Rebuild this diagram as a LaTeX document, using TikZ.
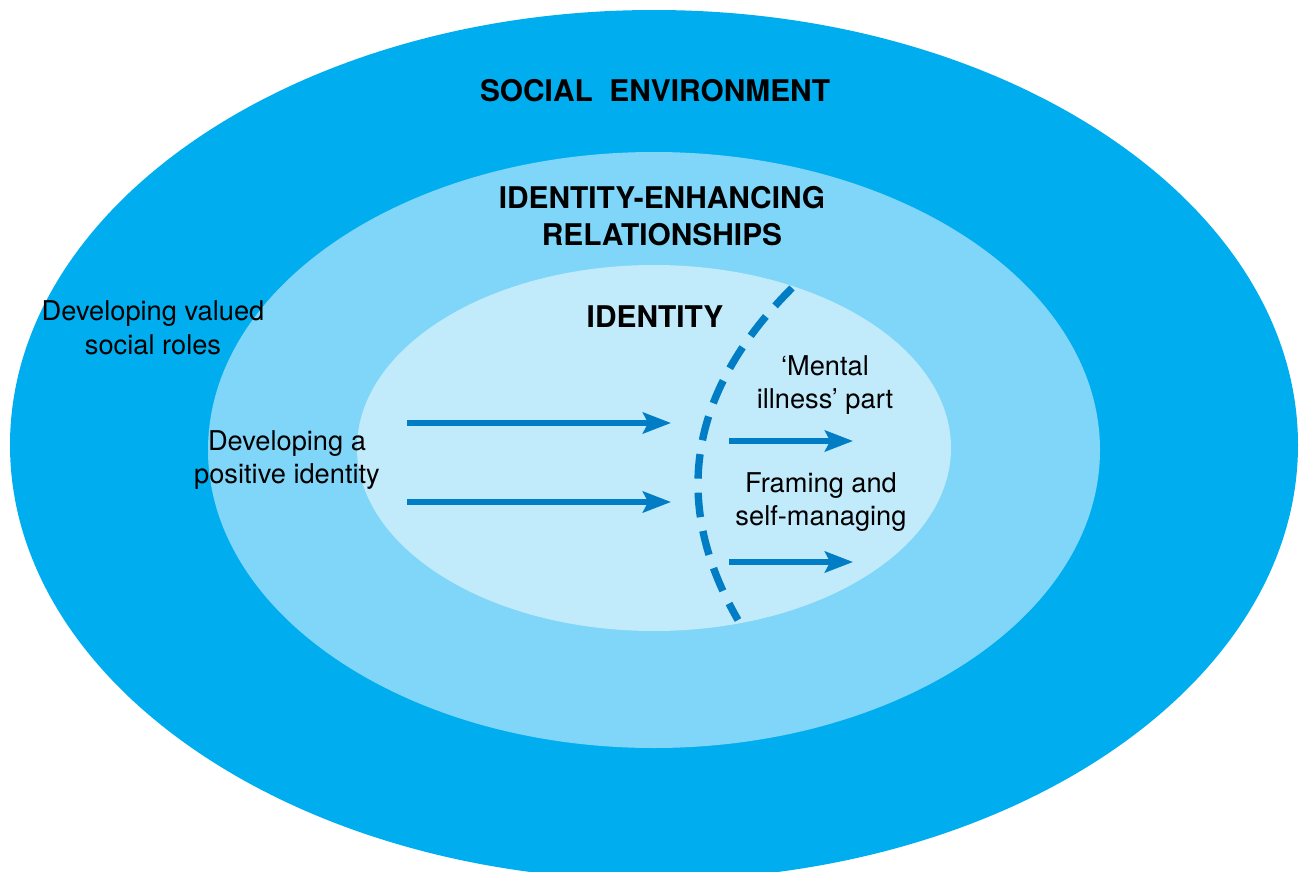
\documentclass[tikz,border=0pt]{standalone}
\usepackage{fontspec}
\setmainfont{TeX Gyre Heros}
\usetikzlibrary{arrows.meta}
\definecolor{envblue}{RGB}{0,174,239}
\definecolor{relblue}{RGB}{128,214,248}
\definecolor{idblue}{RGB}{193,234,250}
\definecolor{arrowblue}{RGB}{0,125,197}
\begin{document}
\begin{tikzpicture}[x=0.02cm,y=-0.02cm,
	heading/.style={font=\fontsize{17}{21}\selectfont\bfseries,align=center,inner sep=0},
	note/.style={font=\fontsize{15.5}{19.2}\selectfont,align=center,inner sep=0},
	flow/.style={arrowblue,line width=3pt,-{Stealth[length=16pt,width=12pt,inset=3pt]}},
	border/.style={arrowblue,line width=4.2pt,dash pattern=on 14pt off 8pt}]
\useasboundingbox (0,0) rectangle (1299,872);
\clip (0,0) rectangle (1299,872);
% the three circles
\fill[envblue] (654,445) ellipse (644 and 435);
\fill[relblue] (654,450) ellipse (446 and 298);
\fill[idblue] (654,448) ellipse (297 and 183);
% titles
\node[heading] (envtitle) at (655,91) {SOCIAL\ \ ENVIRONMENT};
\node[heading] (reltitle) at (662,216) {IDENTITY-ENHANCING\\RELATIONSHIPS};
\node[heading] (idtitle) at (655,317) {IDENTITY};
% side texts
\node[note] (roles) at (153,328) {Developing valued\\social roles};
\node[note] (positive) at (287,460) {Developing a\\positive identity};
\node[note] (mental) at (825,385) {`Mental\\illness' part};
\node[note] (framing) at (821,502) {Framing and\\self-managing};
% arrow ends
\coordinate (upA) at (407,423);
\coordinate (upB) at (671,423);
\coordinate (lowA) at (407,502);
\coordinate (lowB) at (671,502);
\coordinate (outA) at (729,441);
\coordinate (outB) at (853,441);
\coordinate (selfA) at (729,562);
\coordinate (selfB) at (853,562);
\coordinate (cuttop) at (792,288);
\coordinate (cutbot) at (738,620);
\draw[flow] (upA) -- (upB);
\draw[flow] (lowA) -- (lowB);
\draw[flow] (outA) -- (outB);
\draw[flow] (selfA) -- (selfB);
\draw[border] (cuttop) .. controls (660,420) and (692,540) .. (cutbot);
\end{tikzpicture}
\end{document}
